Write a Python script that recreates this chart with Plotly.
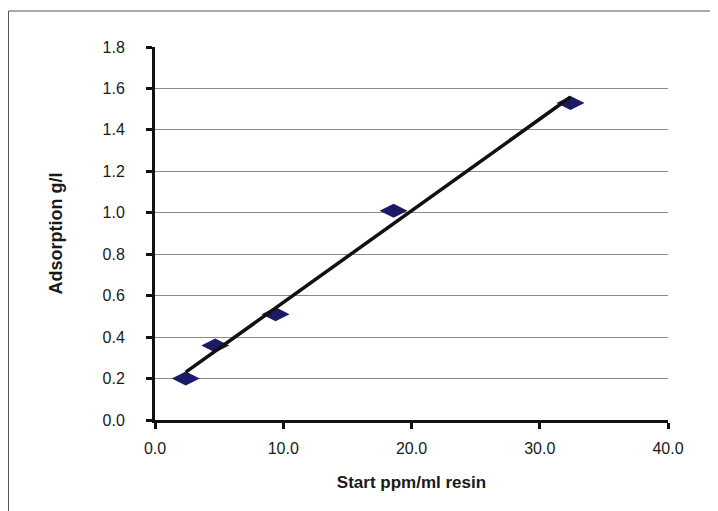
import numpy as np
import plotly.graph_objects as go

# Data
start_ppm = [2.4, 4.7, 9.4, 18.6, 32.4]
adsorption = [0.20, 0.36, 0.51, 1.01, 1.53]

x_ticks = [0, 10, 20, 30, 40]
x_ticktext = ["0.0", "10.0", "20.0", "30.0", "40.0"]
y_ticks = [0.0, 0.2, 0.4, 0.6, 0.8, 1.0, 1.2, 1.4, 1.6, 1.8]
y_ticktext = ["0.0", "0.2", "0.4", "0.6", "0.8", "1.0", "1.2", "1.4", "1.6", "1.8"]

x_title = "Start ppm/ml resin"
y_title = "Adsorption g/l"

# Linear trend line fitted to the data
slope, intercept = np.polyfit(start_ppm, adsorption, 1)
trend_x = [min(start_ppm), max(start_ppm)]
trend_y = [slope * v + intercept for v in trend_x]

# page body has an 8px margin, so the figure is offset by 8px
W, H = 718, 511
ML, MT = 147, 39
PW, PH = 513, 373
MR = W - ML - PW
MB = H - MT - PH

fig = go.Figure()
fig.add_trace(go.Scatter(
    x=start_ppm, y=adsorption, mode="markers",
    marker=dict(symbol="diamond-wide", size=20, color="#1a1a66",
                line=dict(width=0)),
    showlegend=False, hoverinfo="x+y"))
fig.add_trace(go.Scatter(
    x=trend_x, y=trend_y, mode="lines",
    line=dict(color="#111111", width=3.5),
    showlegend=False, hoverinfo="skip"))

# chart frame (top and left edges visible in reference)
fx0 = (0.5 - ML) / PW
fy0 = (PH + MT - 3) / PH
fig.add_shape(type="line", xref="paper", yref="paper",
              x0=fx0, x1=(W - ML) / PW + 0.05, y0=fy0, y1=fy0,
              line=dict(color="#555555", width=1))
fig.add_shape(type="line", xref="paper", yref="paper",
              x0=fx0, x1=fx0, y0=fy0, y1=-(MB + 5) / PH,
              line=dict(color="#555555", width=1))

fig.update_layout(
    width=W, height=H,
    margin=dict(l=ML, r=MR, t=MT, b=MB),
    paper_bgcolor="white", plot_bgcolor="white",
    font=dict(family="Liberation Sans, Arial, sans-serif", color="#1a1a1a"),
    xaxis=dict(
        range=[0, 40], tickvals=x_ticks, ticktext=x_ticktext,
        showgrid=False, zeroline=False,
        showline=True, linecolor="#111111", linewidth=3,
        ticks="outside", ticklen=6, tickwidth=3, tickcolor="#111111",
        tickfont=dict(size=16), ticklabelstandoff=6,
        title=dict(text="<b>" + x_title + "</b>", font=dict(size=17), standoff=20),
    ),
    yaxis=dict(
        range=[0, 1.8], tickvals=y_ticks, ticktext=y_ticktext,
        showgrid=True, gridcolor="#8a8a8a", gridwidth=1,
        zeroline=False,
        showline=True, linecolor="#111111", linewidth=3,
        ticks="outside", ticklen=6, tickwidth=3, tickcolor="#111111",
        tickfont=dict(size=16), ticklabelstandoff=18,
        title=dict(text="<b>" + y_title + "</b>", font=dict(size=18), standoff=36),
    ),
)

fig.write_html("out.html")
